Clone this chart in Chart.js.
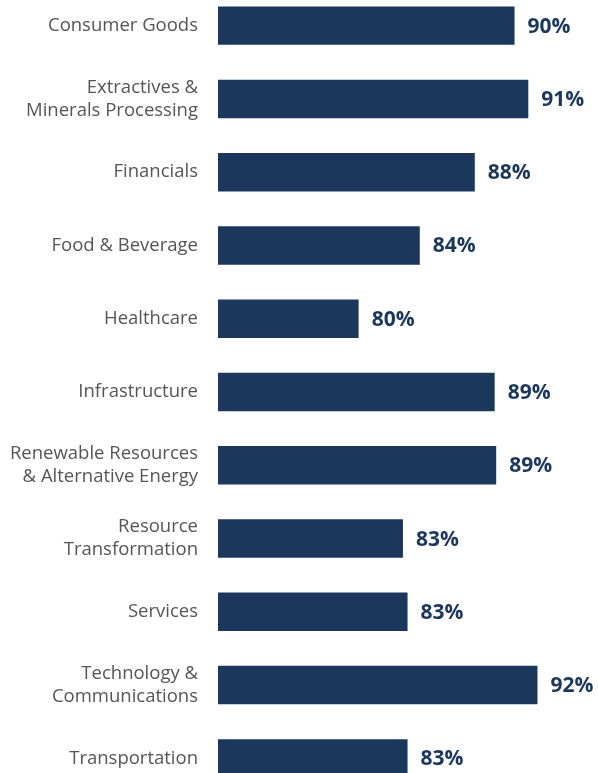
<!DOCTYPE html>
<html>
<head>
<meta charset="utf-8">
<script src="https://cdn.jsdelivr.net/npm/chart.js@4/dist/chart.umd.min.js"></script>
<style>
  html, body { margin: 0; padding: 0; background: #fff; overflow: hidden; }
  #wrap { width: 598px; height: 773px; overflow: hidden; position: relative; }
  #chart { position: absolute; left: 0; top: -11px; }
</style>
</head>
<body>
<div id="wrap">
  <canvas id="chart" width="598" height="806"></canvas>
</div>
<script>
// 行业类别（多行标签用数组）
const categories = [
  'Consumer Goods',
  ['Extractives &', 'Minerals Processing'],
  'Financials',
  'Food & Beverage',
  'Healthcare',
  'Infrastructure',
  ['Renewable Resources', '& Alternative Energy'],
  ['Resource', 'Transformation'],
  'Services',
  ['Technology &', 'Communications'],
  'Transportation'
];

// 柱长估计值（标签显示四舍五入后的百分比）
const values = [90.2, 91.1, 87.6, 84.0, 80.0, 88.9, 89.0, 82.9, 83.2, 91.7, 83.2];

const navy = '#1b385c';

// 柱末端的数值标签
const valueLabels = {
  id: 'valueLabels',
  afterDatasetsDraw(chart) {
    const ctx = chart.ctx;
    const meta = chart.getDatasetMeta(0);
    ctx.save();
    ctx.font = 'bold 21px "Open Sans", sans-serif';
    ctx.fillStyle = navy;
    ctx.textAlign = 'left';
    ctx.textBaseline = 'middle';
    meta.data.forEach((bar, i) => {
      ctx.fillText(Math.round(values[i]) + '%', bar.x + 13, bar.y + 1);
    });
    ctx.restore();
  }
};

new Chart(document.getElementById('chart').getContext('2d'), {
  type: 'bar',
  data: {
    labels: categories,
    datasets: [{
      data: values,
      backgroundColor: navy,
      borderWidth: 0,
      barPercentage: 0.525,
      categoryPercentage: 1
    }]
  },
  options: {
    indexAxis: 'y',
    responsive: false,
    animation: false,
    layout: { padding: 0 },
    plugins: {
      legend: { display: false },
      tooltip: { enabled: false }
    },
    scales: {
      x: {
        display: false,
        min: 70.8,
        max: 95.66
      },
      y: {
        grid: { display: false, drawTicks: false },
        border: { display: false },
        // 固定左侧宽度，去掉标签带来的上下留白
        afterFit(scale) {
          scale.width = 218;
          scale.paddingTop = 0;
          scale.paddingBottom = 0;
        },
        ticks: {
          padding: 20,
          color: '#555555',
          font: { family: '"Open Sans", sans-serif', size: 18.5, lineHeight: 1.25 }
        }
      }
    }
  },
  plugins: [valueLabels]
});
</script>
</body>
</html>
